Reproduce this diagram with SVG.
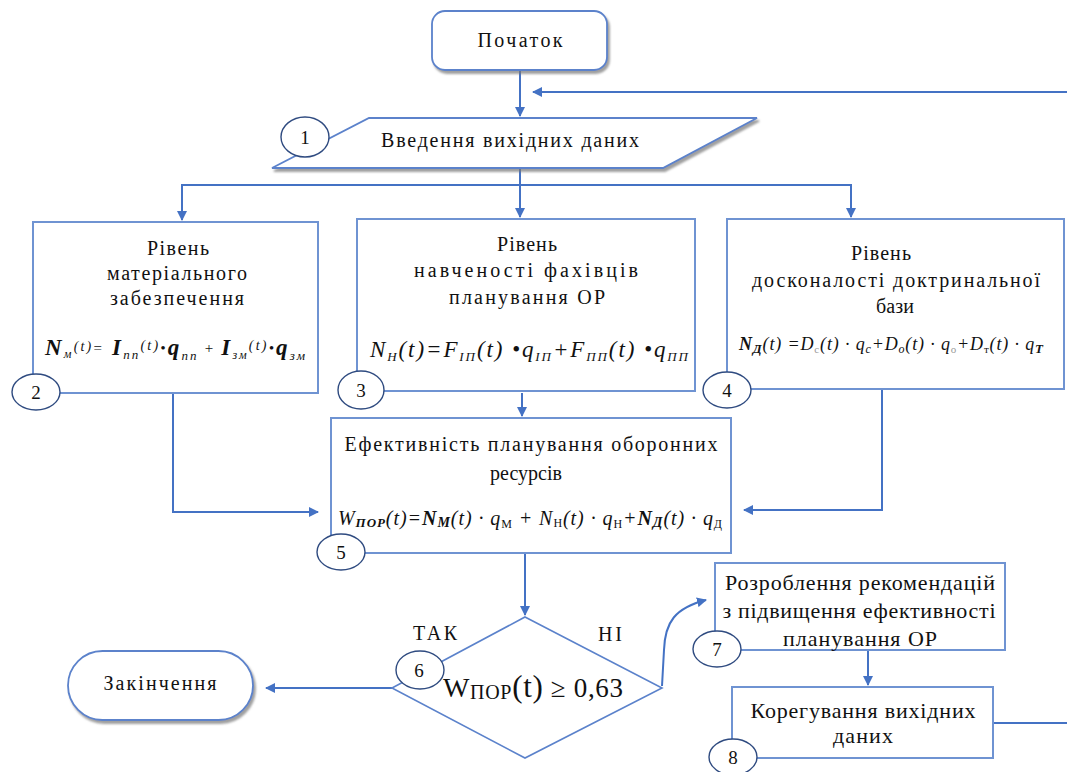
<svg xmlns="http://www.w3.org/2000/svg" width="1067" height="772" viewBox="0 0 1067 772">
<defs>
<marker id="ah" viewBox="0 0 10 10" refX="9" refY="5" markerWidth="10" markerHeight="10" markerUnits="userSpaceOnUse" orient="auto">
<path d="M0,0 L10,5 L0,10 z" fill="#4472C4"/>
</marker>
<filter id="sh" x="-10%" y="-10%" width="130%" height="140%">
<feDropShadow dx="2" dy="3" stdDeviation="1.2" flood-color="#777" flood-opacity="0.7"/>
</filter>
</defs>
<style>
.box{fill:#fff;stroke:#6F93D2;stroke-width:2}
.term{fill:#fff;stroke:#5B82CB;stroke-width:1.8}
.num{fill:#fff;stroke:#2F4B80;stroke-width:1.4}
.con{fill:none;stroke:#4472C4;stroke-width:2}
text{font-family:"Liberation Serif","Times New Roman",serif;fill:#111}
.t{font-size:20px;text-anchor:middle}
.t7{font-size:22px;text-anchor:middle}
.n{font-size:19px;text-anchor:middle}
.fi{font-style:italic}
.bi{font-style:italic;font-weight:bold}
</style>
<rect width="1067" height="772" fill="#fff"/>

<g id="connectors">
<path class="con" d="M520,70 V116" marker-end="url(#ah)"/>
<path class="con" d="M1067,92 H533" marker-end="url(#ah)"/>
<path class="con" d="M520,168 V217" marker-end="url(#ah)"/>
<path class="con" d="M520,185 H182 V220" marker-end="url(#ah)"/>
<path class="con" d="M520,185 H851 V217" marker-end="url(#ah)"/>
<path class="con" d="M522,393 V416" marker-end="url(#ah)"/>
<path class="con" d="M173,393 V512 H318" marker-end="url(#ah)"/>
<path class="con" d="M882,390 V510 H744" marker-end="url(#ah)"/>
<path class="con" d="M525,553 V615" marker-end="url(#ah)"/>
<path class="con" d="M392,688 H266" marker-end="url(#ah)"/>
<path class="con" d="M662,686 L664,650 C665,622 675,608 706,600" marker-end="url(#ah)"/>
<path class="con" d="M868,650 V685" marker-end="url(#ah)"/>
<path class="con" d="M993,723 H1067"/>
</g>

<g id="start">
<rect class="term" x="432" y="11" width="175" height="59" rx="13" filter="url(#sh)"/>
<text class="t" x="520" y="47" font-size="21" textLength="85" lengthAdjust="spacing">Початок</text>
</g>

<g id="n1">
<polygon class="term" points="369,118 757,118 663,168 272,168" filter="url(#sh)"/>
<text class="t" x="510" y="147" textLength="258" lengthAdjust="spacing">Введення вихідних даних</text>
<ellipse class="num" cx="305" cy="137" rx="24" ry="20"/>
<text class="n" x="305" y="144">1</text>
</g>

<g id="n2">
<rect class="box" x="33" y="222" width="285" height="171"/>
<text class="t" x="178" y="255" textLength="62" lengthAdjust="spacing">Рівень</text>
<text class="t" x="177" y="280" textLength="140" lengthAdjust="spacing">матеріального</text>
<text class="t" x="177" y="305" textLength="134" lengthAdjust="spacing">забезпечення</text>
<text class="bi" x="45" y="355" font-size="23" textLength="260" lengthAdjust="spacing">N<tspan class="fi" font-weight="normal" font-size="12" dy="3">м</tspan><tspan class="fi" font-weight="normal" font-size="14" dy="-7">(t)</tspan><tspan font-weight="normal" font-style="normal" font-size="15" dy="2">=</tspan><tspan dy="2"> I</tspan><tspan class="fi" font-weight="normal" font-size="13" dy="4">пп</tspan><tspan class="fi" font-weight="normal" font-size="14" dy="-9">(t)</tspan><tspan font-weight="normal" font-size="15" dy="3">•</tspan><tspan dy="2">q</tspan><tspan class="fi" font-weight="normal" font-size="13" dy="5">пп</tspan><tspan font-weight="normal" font-style="normal" font-size="15" dy="-7"> + </tspan><tspan dy="2">I</tspan><tspan class="fi" font-weight="normal" font-size="12" dy="4">зм</tspan><tspan class="fi" font-weight="normal" font-size="14" dy="-9">(t)</tspan><tspan font-weight="normal" font-size="15" dy="3">•</tspan><tspan dy="2">q</tspan><tspan class="fi" font-weight="normal" font-size="13" dy="5">зм</tspan></text>
<ellipse class="num" cx="36" cy="392" rx="24" ry="18"/>
<text class="n" x="36" y="399">2</text>
</g>

<g id="n3">
<rect class="box" x="357" y="219" width="338" height="172"/>
<text class="t" x="527" y="251" textLength="60" lengthAdjust="spacing">Рівень</text>
<text class="t" x="526" y="277" textLength="224" lengthAdjust="spacing">навченості фахівців</text>
<text class="t" x="527" y="304" textLength="156" lengthAdjust="spacing">планування ОР</text>
<text class="fi" x="370" y="357" font-size="23" textLength="318" lengthAdjust="spacing">N<tspan font-size="13" dy="4">Н</tspan><tspan dy="-4">(t)=F</tspan><tspan font-size="13" dy="4">ІП</tspan><tspan dy="-4">(t)  •q</tspan><tspan font-size="13" dy="4">ІП</tspan><tspan dy="-4">+F</tspan><tspan font-size="13" dy="4">ПП</tspan><tspan dy="-4">(t)  •q</tspan><tspan font-size="13" dy="4">ПП</tspan></text>
<ellipse class="num" cx="361" cy="390" rx="23" ry="19"/>
<text class="n" x="361" y="397">3</text>
</g>

<g id="n4">
<rect class="box" x="727" y="219" width="337" height="170"/>
<text class="t" x="881" y="260" textLength="60" lengthAdjust="spacing">Рівень</text>
<text class="t" x="896" y="287" textLength="288" lengthAdjust="spacing">досконалості доктринальної</text>
<text class="t" x="895" y="313" textLength="38" lengthAdjust="spacing">бази</text>
<text class="fi" x="739" y="350" font-size="18" textLength="304" lengthAdjust="spacing"><tspan class="bi">N</tspan><tspan class="bi" font-size="13" dy="3">Д</tspan><tspan dy="-3">(t) =D</tspan><tspan font-size="11" dy="3" font-style="normal" fill="#999">с</tspan><tspan dy="-3">(t) · q</tspan><tspan font-size="12" dy="3">c</tspan><tspan dy="-3">+D</tspan><tspan font-size="12" dy="3">o</tspan><tspan dy="-3">(t) · q</tspan><tspan font-size="11" dy="3" font-style="normal" fill="#999">о</tspan><tspan dy="-3">+D</tspan><tspan font-size="11" dy="3" font-style="normal">т</tspan><tspan dy="-3">(t) · q</tspan><tspan class="bi" font-size="13" dy="3">T</tspan></text>
<ellipse class="num" cx="727" cy="390" rx="24" ry="18"/>
<text class="n" x="727" y="397">4</text>
</g>

<g id="n5">
<rect class="box" x="331" y="418" width="400" height="135"/>
<text class="t" x="531" y="451" font-size="21" textLength="373" lengthAdjust="spacing">Ефективність планування оборонних</text>
<text class="t" x="526" y="480" font-size="21" textLength="72" lengthAdjust="spacing">ресурсів</text>
<text class="fi" x="338" y="525" font-size="20" textLength="384" lengthAdjust="spacing">W<tspan class="bi" font-size="13" dy="2">ПОР</tspan><tspan dy="-2">(t)=</tspan><tspan class="bi">N</tspan><tspan class="bi" font-size="14" dy="2">М</tspan><tspan dy="-2">(t) · q</tspan><tspan font-size="12" dy="3" font-style="normal">М</tspan><tspan dy="-3"> + N</tspan><tspan font-size="12" dy="2" font-style="normal">Н</tspan><tspan dy="-2">(t) · q</tspan><tspan font-size="12" dy="3" font-style="normal">Н</tspan><tspan dy="-3">+</tspan><tspan class="bi">N</tspan><tspan class="bi" font-size="14" dy="2">Д</tspan><tspan dy="-2">(t) · q</tspan><tspan font-size="12" dy="3" font-style="normal">Д</tspan></text>
<ellipse class="num" cx="341" cy="552" rx="24" ry="18"/>
<text class="n" x="341" y="559">5</text>
</g>

<g id="n6">
<polygon class="box" points="525,617 662,688 525,758 392,688" style="stroke:#5B82CB;stroke-width:1.6"/>
<text class="t" x="435" y="640" font-size="21" textLength="44" lengthAdjust="spacing">ТАК</text>
<text class="t" x="610" y="641" font-size="21" textLength="24" lengthAdjust="spacing">НІ</text>
<text x="443" y="697" font-size="28" textLength="180" lengthAdjust="spacing">W<tspan font-size="20" dy="2">ПОР</tspan><tspan font-size="31" dy="-2">(t)</tspan><tspan font-size="27"> ≥ 0,63</tspan></text>
<ellipse class="num" cx="420" cy="670" rx="24" ry="19"/>
<text class="n" x="419" y="677" font-size="17">6</text>
</g>

<g id="end">
<rect class="term" x="68" y="651" width="185" height="69" rx="34.5" filter="url(#sh)"/>
<text class="t" x="160" y="690" font-size="22" textLength="113" lengthAdjust="spacing">Закінчення</text>
</g>

<g id="n7">
<rect class="box" x="715" y="563" width="290" height="87"/>
<text class="t7" x="860" y="590" textLength="270" lengthAdjust="spacing">Розроблення рекомендацій</text>
<text class="t7" x="859" y="618" textLength="273" lengthAdjust="spacing">з підвищення ефективності</text>
<text class="t7" x="860" y="646" textLength="154" lengthAdjust="spacing">планування ОР</text>
<ellipse class="num" cx="717" cy="649" rx="24" ry="18"/>
<text class="n" x="717" y="656">7</text>
</g>

<g id="n8">
<rect class="box" x="732" y="687" width="261" height="71"/>
<text class="t7" x="863" y="718" textLength="225" lengthAdjust="spacing">Корегування вихідних</text>
<text class="t7" x="863" y="743" textLength="60" lengthAdjust="spacing">даних</text>
<ellipse class="num" cx="733" cy="757" rx="24" ry="18"/>
<text class="n" x="733" y="764">8</text>
</g>
</svg>
